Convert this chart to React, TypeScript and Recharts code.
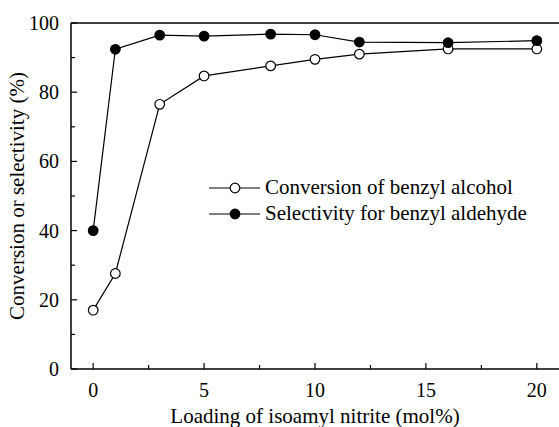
import React from "react";
import { LineChart, Line, XAxis, YAxis, ReferenceLine, Label } from "recharts";

const loading = [0, 1, 3, 5, 8, 10, 12, 16, 20];
const conversion = [17.0, 27.6, 76.5, 84.7, 87.6, 89.5, 91.0, 92.5, 92.5];
const selectivity = [40.0, 92.4, 96.5, 96.2, 96.8, 96.6, 94.5, 94.3, 94.9];
const xTicks = [0, 2.5, 5, 7.5, 10, 12.5, 15, 17.5, 20];
const yTicks = [0, 10, 20, 30, 40, 50, 60, 70, 80, 90, 100];
const seriesNames = ["Conversion of benzyl alcohol", "Selectivity for benzyl aldehyde"];

const data = loading.map((x, i) => ({ x, conv: conversion[i], sel: selectivity[i] }));

const FONT = "'Liberation Serif', 'Times New Roman', serif";

function XTick({ x, y, payload }: any) {
  const major = payload.value % 5 === 0;
  return (
    <g>
      <line x1={x} x2={x} y1={y} y2={y - (major ? 6 : 4)} stroke="#000" strokeWidth={1.2} />
      {major && (
        <text x={x} y={y + 28} textAnchor="middle" fontFamily={FONT} fontSize={20} fill="#000">
          {payload.value}
        </text>
      )}
    </g>
  );
}

function YTick({ x, y, payload }: any) {
  const major = payload.value % 20 === 0;
  return (
    <g>
      <line x1={x} x2={x + (major ? 6 : 4)} y1={y} y2={y} stroke="#000" strokeWidth={1.2} />
      {major && (
        <text x={x - 12} y={y + 7} textAnchor="end" fontFamily={FONT} fontSize={20} fill="#000">
          {payload.value}
        </text>
      )}
    </g>
  );
}

function LegendBox() {
  return (
    <svg width={340} height={50} style={{ position: "absolute", left: 205, top: 175 }}>
      {seriesNames.map((name, i) => {
        const cy = 13 + i * 26;
        return (
          <g key={name}>
            <line x1={4} x2={55} y1={cy} y2={cy} stroke="#000" strokeWidth={1.2} />
            <circle cx={30} cy={cy} r={4.8} fill={i === 0 ? "#fff" : "#000"} stroke="#000" strokeWidth={1.2} />
            <text x={60} y={cy + 6} fontFamily={FONT} fontSize={21} fill="#000">{name}</text>
          </g>
        );
      })}
    </svg>
  );
}

export default function App() {
  return (
    <div style={{ position: "absolute", left: 0, top: 0, width: 559, height: 427, background: "#fff" }}>
      <LineChart width={559} height={427} data={data} margin={{ top: 23, right: 0, left: 0, bottom: 0 }}>
        <XAxis
          dataKey="x"
          type="number"
          domain={[-1, 21]}
          ticks={xTicks}
          interval={0}
          tickSize={0}
          tickMargin={0}
          tick={<XTick />}
          height={58}
          stroke="#000"
          strokeWidth={1.5}
          allowDataOverflow
        >
          <Label value="Loading of isoamyl nitrite (mol%)" position="insideBottom" offset={4} style={{ fontFamily: FONT, fontSize: 21, fill: "#000" }} />
        </XAxis>
        <YAxis
          type="number"
          domain={[0, 100]}
          ticks={yTicks}
          interval={0}
          tickSize={0}
          tickMargin={0}
          tick={<YTick />}
          width={71}
          stroke="#000"
          strokeWidth={1.5}
        >
          <Label value="Conversion or selectivity (%)" angle={-90} position="insideLeft" offset={17} style={{ fontFamily: FONT, fontSize: 21, fill: "#000", textAnchor: "middle" }} />
        </YAxis>
        <ReferenceLine y={100} stroke="#000" strokeWidth={1.5} />
        <Line
          dataKey="conv"
          stroke="#000"
          strokeWidth={1.2}
          dot={{ r: 4.8, fill: "#fff", stroke: "#000", strokeWidth: 1.2 }}
          isAnimationActive={false}
        />
        <Line
          dataKey="sel"
          stroke="#000"
          strokeWidth={1.2}
          dot={{ r: 4.8, fill: "#000", stroke: "#000", strokeWidth: 1.2 }}
          isAnimationActive={false}
        />
      </LineChart>
      <LegendBox />
    </div>
  );
}
